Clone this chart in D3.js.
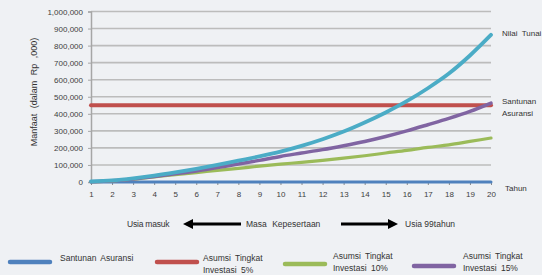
<!DOCTYPE html>
<html>
<head>
<meta charset="utf-8">
<script src="https://d3js.org/d3.v7.min.js"></script>
<style>
    body { margin: 0; background: #eff1f4; }
    svg { display: block; font-family: "Liberation Sans", Arial, sans-serif; }
    .grid line { stroke: #bcbcbc; stroke-width: 1.6px; }
    .tick text { fill: #404040; }
</style>
</head>
<body>
<div id="chart"></div>
<script>
// data
const years = d3.range(1, 21);
const yTicks = [0, 100000, 200000, 300000, 400000, 500000, 600000, 700000, 800000, 900000, 1000000];

const santunan = years.map(() => 0);          // blue, flat at zero
const asumsi5  = years.map(() => 450000);     // red, flat
const asumsi10 = [2000, 7000, 17000, 30000, 43000, 55000, 68000, 80000, 93000, 105000,
                  115000, 127000, 140000, 154000, 170000, 185000, 203000, 218000, 238000, 258000];
const asumsi15 = [2000, 7000, 18000, 32000, 48000, 65000, 85000, 105000, 127000, 150000,
                  170000, 190000, 213000, 238000, 267000, 300000, 336000, 373000, 414000, 463000];
const nilaiTunai = [3000, 9000, 21000, 37000, 56000, 77000, 100000, 125000, 150000, 178000,
                    212000, 251000, 296000, 349000, 408000, 474000, 550000, 636000, 742000, 863000];

const series = [
    { name: "santunan", values: santunan, color: "#4f81bd", w: 3 },
    { name: "asumsi5", values: asumsi5, color: "#c0504d", w: 4 },
    { name: "asumsi10", values: asumsi10, color: "#9bbb59", w: 3.2 },
    { name: "asumsi15", values: asumsi15, color: "#8064a2", w: 3.5 },
    { name: "nilai", values: nilaiTunai, color: "#4bacc6", w: 3.8 }
];

const legendItems = [
    { lines: ["Santunan Asuransi"], color: "#4f81bd" },
    { lines: ["Asumsi  Tingkat", "Investasi  5%"], color: "#c0504d" },
    { lines: ["Asumsi  Tingkat", "Investasi  10%"], color: "#9bbb59" },
    { lines: ["Asumsi  Tingkat", "Investasi  15%"], color: "#8064a2" }
];

const width = 542, height = 275;
const svg = d3.select("#chart").append("svg")
    .attr("width", width).attr("height", height);

svg.append("rect").attr("width", width).attr("height", height).attr("fill", "#eff1f4");

const x = d3.scaleLinear().domain([1, 20]).range([91, 491]);
const y = d3.scaleLinear().domain([0, 1000000]).range([182, 11.5]);

// gridlines
svg.append("g").attr("class", "grid")
    .selectAll("line").data(yTicks.slice(1)).enter().append("line")
    .attr("x1", x(1)).attr("x2", x(20))
    .attr("y1", d => y(d)).attr("y2", d => y(d));

// y axis
const yAxis = svg.append("g").attr("transform", `translate(${x(1)},0)`)
    .call(d3.axisLeft(y).tickValues(yTicks).tickSize(3).tickPadding(5)
        .tickFormat(d3.format(",")));
yAxis.select(".domain").attr("stroke", "#a6a6a6").attr("stroke-width", 1.5);
yAxis.selectAll(".tick line").attr("stroke", "#a6a6a6");
yAxis.selectAll("text").attr("font-size", 8);

// x axis
const xAxis = svg.append("g").attr("transform", `translate(0,${y(0)})`)
    .call(d3.axisBottom(x).tickValues(years).tickSize(3).tickPadding(6).tickFormat(d3.format("d")));
xAxis.select(".domain").attr("stroke", "#a6a6a6");
xAxis.selectAll(".tick line").attr("stroke", "#8a8a8a");
xAxis.selectAll("text").attr("font-size", 8);

// lines
const line = d3.line()
    .x((d, i) => x(years[i]))
    .y(d => y(d))
    .curve(d3.curveMonotoneX);

svg.append("g").selectAll("path").data(series).enter().append("path")
    .attr("d", d => line(d.values))
    .attr("fill", "none")
    .attr("stroke", d => d.color)
    .attr("stroke-width", d => d.w)
    .attr("stroke-linecap", "round");

// y title
svg.append("text")
    .attr("transform", "translate(37,92) rotate(-90)")
    .attr("text-anchor", "middle")
    .attr("font-size", 9)
    .attr("word-spacing", 3)
    .attr("fill", "#333")
    .text("Manfaat  (dalam  Rp  ,000)");

// right side labels
const sideText = svg.append("g").attr("font-size", 8).attr("fill", "#333");
sideText.append("text").attr("x", 502).attr("y", 36).attr("word-spacing", 2).text("Nilai  Tunai");
sideText.append("text").attr("x", 502).attr("y", 104).text("Santunan");
sideText.append("text").attr("x", 502).attr("y", 116).text("Asuransi");
sideText.append("text").attr("x", 505).attr("y", 191).text("Tahun");

// arrow row
svg.append("defs").append("marker")
    .attr("id", "head").attr("viewBox", "0 0 10 10")
    .attr("refX", 5).attr("refY", 5)
    .attr("markerWidth", 3.2).attr("markerHeight", 3.6)
    .attr("orient", "auto-start-reverse")
    .append("path").attr("d", "M0,0 L10,5 L0,10 z").attr("fill", "#000");

const arrowY = 224;
const row = svg.append("g").attr("font-size", 8.5).attr("fill", "#333");
row.append("text").attr("x", 127).attr("y", arrowY + 3).text("Usia masuk").attr("letter-spacing", -0.2);
row.append("text").attr("x", 246).attr("y", arrowY + 3).attr("word-spacing", 3).text("Masa  Kepesertaan");
row.append("text").attr("x", 405).attr("y", arrowY + 3).text("Usia 99tahun");
svg.append("line").attr("x1", 241).attr("x2", 188).attr("y1", arrowY).attr("y2", arrowY)
    .attr("stroke", "#000").attr("stroke-width", 3.2).attr("marker-end", "url(#head)");
svg.append("line").attr("x1", 341).attr("x2", 393).attr("y1", arrowY).attr("y2", arrowY)
    .attr("stroke", "#000").attr("stroke-width", 3.2).attr("marker-end", "url(#head)");

// legend
const legendPos = [
    { x: 10, ly: 262, tx: 60, ty: 261 },
    { x: 157, ly: 262, tx: 203, ty: 261 },
    { x: 285, ly: 264, tx: 333, ty: 259 },
    { x: 414, ly: 266, tx: 463, ty: 259 }
];
const lg = svg.append("g").selectAll("g").data(legendItems).enter().append("g");
lg.append("line")
    .attr("x1", (d, i) => legendPos[i].x).attr("x2", (d, i) => legendPos[i].x + 40)
    .attr("y1", (d, i) => legendPos[i].ly).attr("y2", (d, i) => legendPos[i].ly)
    .attr("stroke", d => d.color).attr("stroke-width", 4.5).attr("stroke-linecap", "round");
lg.each(function(d, i) {
    const t = d3.select(this).append("text")
        .attr("font-size", 8.5).attr("fill", "#333");
    d.lines.forEach((s, j) => {
        t.append("tspan").attr("x", legendPos[i].tx)
            .attr("y", legendPos[i].ty + j * 12)
            .attr("word-spacing", 2)
            .text(s);
    });
});
</script>
</body>
</html>
